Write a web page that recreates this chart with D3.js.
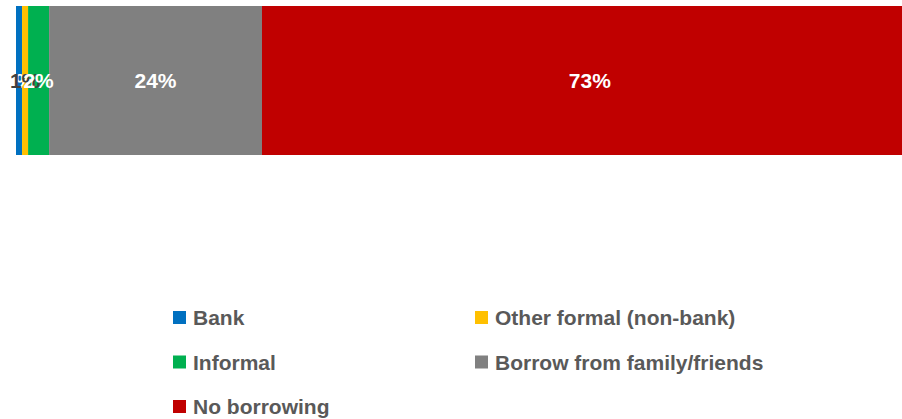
<!DOCTYPE html>
<html>
<head>
<meta charset="utf-8">
<script src="https://cdn.jsdelivr.net/npm/d3@7"></script>
<style>
  html, body { margin: 0; padding: 0; background: #fff; }
  svg { display: block; }
</style>
</head>
<body>
<svg id="chart" width="902" height="419"></svg>
<script>
// Share of adults by source of borrowing (percent, one 100% stacked bar)
const categories = ["Bank", "Other formal (non-bank)", "Informal", "Borrow from family/friends", "No borrowing"];
const values = [0.67, 0.67, 2.33, 23.6, 72.7];
const colors = ["#0070C0", "#FFC000", "#00B050", "#808080", "#C00000"];
const labelColors = ["#FFFFFF", "#404040", "#FFFFFF", "#FFFFFF", "#FFFFFF"];

const svg = d3.select("#chart");
const font = "'Liberation Sans', Arial, sans-serif";

// The bar runs past the right edge of the drawing, as in the source layout
const x = d3.scaleLinear().domain([0, 100]).range([16, 918]);
const y = d3.scaleBand().domain(["all"]).range([6, 155]).padding(0);

const stacked = [];
let acc = 0;
values.forEach((v, i) => {
  stacked.push({ cat: categories[i], v, x0: acc, x1: acc + v, color: colors[i], lc: labelColors[i] });
  acc += v;
});

const g = svg.append("g");
g.selectAll("rect.seg")
  .data(stacked)
  .join("rect")
  .attr("class", "seg")
  .attr("x", d => x(d.x0))
  .attr("y", y("all"))
  .attr("width", d => x(d.x1) - x(d.x0))
  .attr("height", y.bandwidth())
  .attr("fill", d => d.color);

const fmt = v => Math.round(v) + "%";
g.selectAll("text.lbl")
  .data(stacked)
  .join("text")
  .attr("class", "lbl")
  .attr("x", d => (x(d.x0) + x(d.x1)) / 2)
  .attr("y", y("all") + y.bandwidth() / 2)
  .attr("dy", "0.36em")
  .attr("text-anchor", "middle")
  .attr("font-family", font)
  .attr("font-weight", "bold")
  .attr("font-size", 21)
  .attr("fill", d => d.lc)
  .text(d => fmt(d.v));

// Legend: two columns, three rows
const legendX = [173, 475];
const legendY = [311, 355.5, 400];
const legend = svg.append("g");
categories.forEach((c, i) => {
  const col = i % 2, row = Math.floor(i / 2);
  const lg = legend.append("g").attr("transform", `translate(${legendX[col]},${legendY[row]})`);
  lg.append("rect").attr("width", 13).attr("height", 13).attr("fill", colors[i]);
  lg.append("text")
    .attr("x", 20)
    .attr("y", 6.5)
    .attr("dy", "0.36em")
    .attr("font-family", font)
    .attr("font-weight", "bold")
    .attr("font-size", 21)
    .attr("fill", "#595959")
    .text(c);
});
</script>
</body>
</html>
